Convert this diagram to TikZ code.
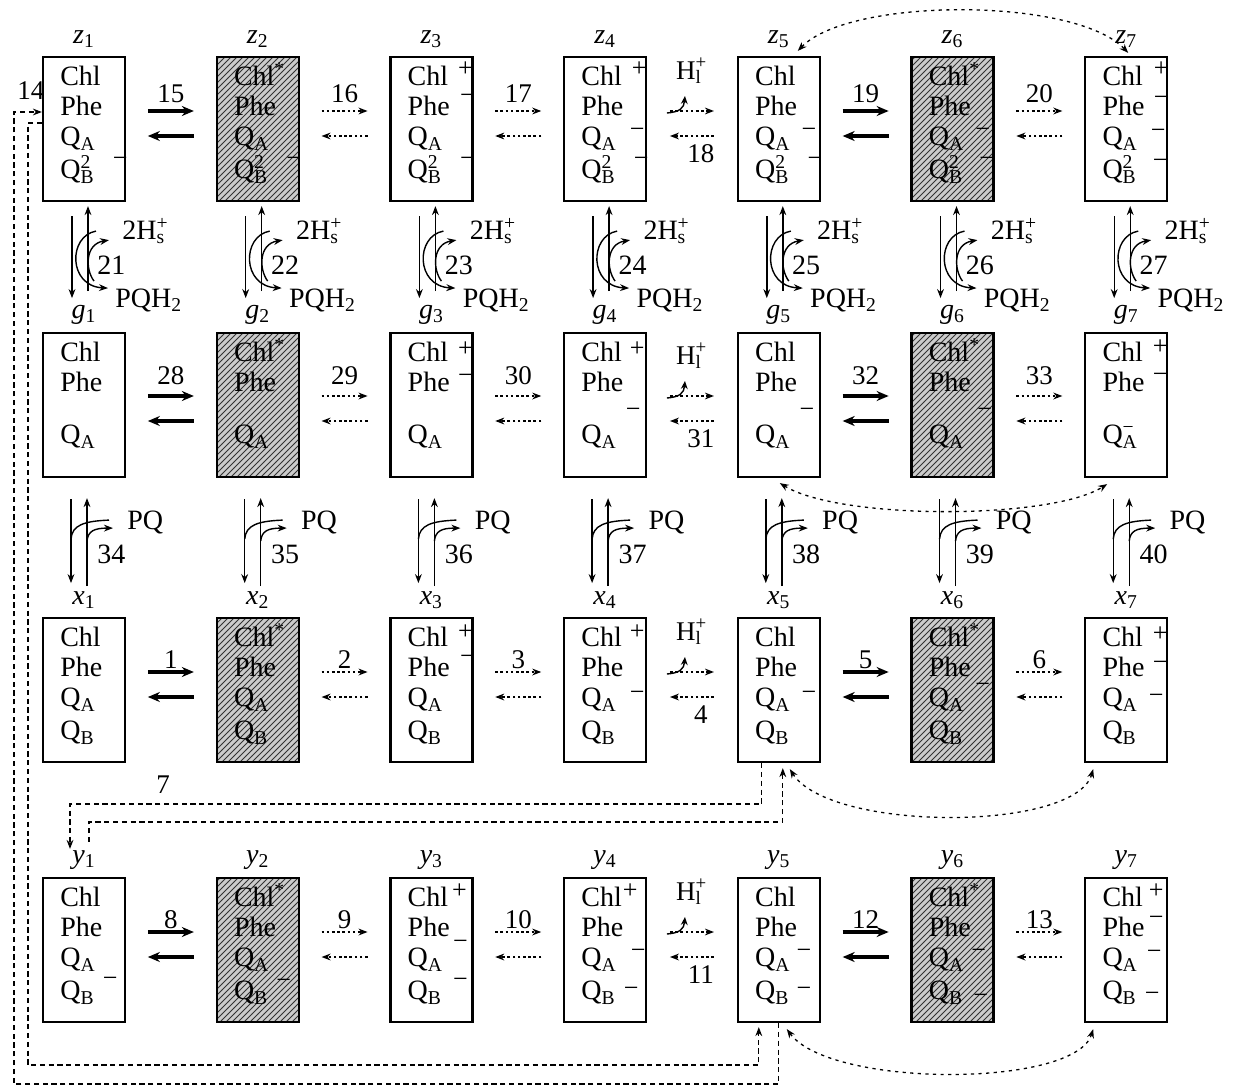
\documentclass[tikz,border=0pt]{standalone}
\usepackage{fontspec}
\setmainfont{Liberation Serif}
\usetikzlibrary{arrows.meta,patterns,calc}
\newcommand\bfs{\fontsize{14pt}{16pt}\selectfont}
\newcommand\nfs{\fontsize{13.5pt}{15pt}\selectfont}
\newcommand\cfs{\fontsize{13pt}{13pt}\selectfont}
\newcommand\QA{Q\textsubscript{A}}
\newcommand\QB{Q\textsubscript{B}}
\newcommand\QBtwo{Q\rlap{\textsuperscript{2}}\textsubscript{B}}
\newcommand\QAm{Q\rlap{\textsuperscript{−}}\textsubscript{A}}
\newcommand\Hl{H\rlap{\textsuperscript{+}}\textsubscript{l}}
\newcommand\Hs{2H\rlap{\textsuperscript{+}}\textsubscript{s}}
\newcommand\PQH{PQH\textsubscript{2}}
\newcommand\Chls{Chl\textsuperscript{*}}
\newcommand\fourl[5]{%
  \node[tl] (#1-a) at ($(#1.north west)+(18,30)$) {#2};
  \node[tl] (#1-b) at ($(#1.north west)+(18,60)$) {#3};
  \node[tl] (#1-c) at ($(#1.north west)+(18,90)$) {#4};
  \node[tl] (#1-d) at ($(#1.north west)+(18,123)$) {#5};}
\newcommand\threel[4]{%
  \node[tl] (#1-a) at ($(#1.north west)+(18,30)$) {#2};
  \node[tl] (#1-b) at ($(#1.north west)+(18,60)$) {#3};
  \node[tl] (#1-c) at ($(#1.north west)+(18,112)$) {#4};}
\newcommand\chg[5]{\node[chg] (#1-q#2) at ($(#1.north east)+(#4,#3)$) {#5};}
% from, to, style, number, dy, number offset
\newcommand\harrN[6]{%
  \coordinate (#1#2m) at ($(#1.east)!0.5!(#2.west)$);
  \draw[#3] ($(#1#2m)+(-23,#5)$) -- ($(#1#2m)+(23,#5)$);
  \draw[#3] ($(#1#2m)+(23,#5+25)$) -- ($(#1#2m)+(-23,#5+25)$);
  \node[num] (#1#2n) at ($(#1#2m)+(0,#5+#6)$) {#4};}
% from, to, number, dy
\newcommand\harrH[4]{%
  \coordinate (#1#2m) at ($(#1.east)!0.5!(#2.west)$);
  \draw[dotar] ($(#1#2m)+(-22,#4)$) -- ($(#1#2m)+(22,#4)$);
  \draw[dotar] ($(#1#2m)+(22,#4+25)$) -- ($(#1#2m)+(-22,#4+25)$);
  \draw[vl,-hookt] ($(#1#2m)+(-25,#4+2)$) .. controls ($(#1#2m)+(-12,#4+1)$) and ($(#1#2m)+(-8,#4-3)$) .. ($(#1#2m)+(-7,#4-15)$);
  \node[num] (#1#2n) at ($(#1#2m)+(9,#4+43)$) {#3};
  \node[num] (#1#2h) at ($(#1#2m)+(-3,#4-40)$) {\Hl};}
\begin{document}
\begin{tikzpicture}[x=0.5pt,y=-0.5pt,
  smallt/.tip={Stealth[length=4.5pt,width=3.4pt]},
  hookt/.tip={Stealth[length=4pt,width=3.4pt]},
  bigt/.tip={Stealth[length=6pt,width=5pt]},
  box/.style={draw,line width=1.1pt,minimum width=41pt,minimum height=72pt,inner sep=0pt},
  sbox/.style={box,preaction={fill=black!20},pattern=north east lines,pattern color=black!80},
  tl/.style={anchor=base west,inner sep=0pt,font=\bfs},
  chg/.style={inner sep=0pt,font=\cfs},
  num/.style={inner sep=0pt,font=\nfs},
  lab/.style={inner sep=0pt,font=\bfs},
  spc/.style={anchor=west,inner sep=0pt,font=\bfs},
  vl/.style={line width=0.7pt},
  dotar/.style={line width=0.75pt,dash pattern=on 1.3pt off 1.3pt,-smallt},
  thk/.style={line width=1.8pt,-bigt},
  ldash/.style={line width=0.65pt,dash pattern=on 2.6pt off 1.8pt},
  adash/.style={line width=0.65pt,dash pattern=on 1.6pt off 2.2pt,smallt-smallt}]
\useasboundingbox (0,0) rectangle (1242,1086);

% boxes
\foreach \rw/\t in {z/57,g/333,x/618,y/878}{
  \foreach \i/\c in {1/84,3/431.4,4/605.1,5/778.8,7/1126.2}{
    \node[box] (\rw\i) at (\c,\t+72) {};
    \node[lab] (\rw\i-lab) at (\c,\t-18) {\textit{\rw}\textsubscript{\i}};
  }
  \foreach \i/\c in {2/257.7,6/952.5}{
    \node[sbox] (\rw\i) at (\c,\t+72) {};
    \node[lab] (\rw\i-lab) at (\c,\t-18) {\textit{\rw}\textsubscript{\i}};
  }
}

% box texts
\foreach \i/\ch in {1/Chl,2/\Chls,3/Chl,4/Chl,5/Chl,6/\Chls,7/Chl}{
  \fourl{z\i}{\ch}{Phe}{\QA}{\QBtwo}
  \threel{g\i}{\ch}{Phe}{\ifnum\i=7 \QAm\else\QA\fi}
  \fourl{x\i}{\ch}{Phe}{\QA}{\QB}
  \fourl{y\i}{\ch}{Phe}{\QA}{\QB}
}

% charges
\chg{z1}{d}{106}{-6}{−}
\chg{z2}{d}{106}{-6}{−}
\chg{z3}{a}{13}{-8}{+}\chg{z3}{b}{43}{-6}{−}\chg{z3}{d}{106}{-6}{−}
\chg{z4}{a}{13}{-8}{+}\chg{z4}{c}{77}{-10}{−}\chg{z4}{d}{106}{-6}{−}
\chg{z5}{c}{77}{-12}{−}\chg{z5}{d}{106}{-6}{−}
\chg{z6}{c}{77}{-12}{−}\chg{z6}{d}{106}{-8}{−}
\chg{z7}{a}{13}{-7}{+}\chg{z7}{b}{45}{-7}{−}\chg{z7}{c}{78}{-10}{−}\chg{z7}{d}{108}{-8}{−}
\chg{g3}{a}{17}{-8}{+}\chg{g3}{b}{47}{-8}{−}
\chg{g4}{a}{17}{-10}{+}\chg{g4}{c}{81}{-14}{−}
\chg{g5}{c}{81}{-14}{−}
\chg{g6}{c}{81}{-10}{−}
\chg{g7}{a}{15}{-8}{+}\chg{g7}{b}{46}{-8}{−}
\chg{x3}{a}{15}{-8}{+}\chg{x3}{b}{43}{-6}{−}
\chg{x4}{a}{15}{-10}{+}\chg{x4}{c}{79}{-10}{−}
\chg{x5}{c}{79}{-12}{−}
\chg{x6}{c}{71}{-12}{−}
\chg{x7}{a}{17}{-8}{+}\chg{x7}{b}{49}{-8}{−}\chg{x7}{c}{82}{-12}{−}
\chg{y1}{d}{105}{-16}{−}
\chg{y2}{d}{107}{-16}{−}
\chg{y3}{a}{14}{-14}{+}\chg{y3}{b}{68}{-13}{−}\chg{y3}{d}{106}{-13}{−}
\chg{y4}{a}{14}{-17}{+}\chg{y4}{c}{77}{-9}{−}\chg{y4}{d}{115}{-16}{−}
\chg{y5}{c}{77}{-17}{−}\chg{y5}{d}{115}{-17}{−}
\chg{y6}{c}{77}{-16}{−}\chg{y6}{d}{122}{-14}{−}
\chg{y7}{a}{14}{-12}{+}\chg{y7}{b}{44}{-12}{−}\chg{y7}{c}{78}{-14}{−}\chg{y7}{d}{120}{-16}{−}

% horizontal transitions
\foreach \rw/\dy/\no/\na/\nb/\nc/\nd/\ne/\nf in {z/-18/-17/15/16/17/18/19/20, g/-9/-20/28/29/30/31/32/33, x/-18/-12/1/2/3/4/5/6, y/-18/-12/8/9/10/11/12/13}{
  \harrN{\rw1}{\rw2}{thk}{\na}{\dy}{\no}
  \harrN{\rw2}{\rw3}{dotar}{\nb}{\dy}{\no}
  \harrN{\rw3}{\rw4}{dotar}{\nc}{\dy}{\no}
  \harrH{\rw4}{\rw5}{\nd}{\dy}
  \harrN{\rw5}{\rw6}{thk}{\ne}{\dy}{\no}
  \harrN{\rw6}{\rw7}{dotar}{\nf}{\dy}{\no}
}

% vertical transitions
\foreach \i/\n/\m in {1/21/34,2/22/35,3/23/36,4/24/37,5/25/38,6/26/39,7/27/40}{
  \begin{scope}[shift={(z\i.south)}]
    \draw[vl,-smallt] (-12,14) -- (-12,96);
    \draw[vl,-smallt] (4,89) -- (4,4);
    \draw[vl,-smallt] (12,29) .. controls (-16,34) and (-16,84) .. (24,86);
    \draw[vl,-smallt] (10,79) .. controls (1,67) and (1,42) .. (25,38);
    \node[spc] (zg\i-h) at (38,29) {\Hs};
    \node[spc] (zg\i-p) at (31,98) {\PQH};
    \node[spc] (zg\i-n) at (13,63) {\n};
  \end{scope}
  \begin{scope}[shift={(g\i.south)}]
    \draw[vl,-smallt] (-13,21) -- (-13,105);
    \draw[vl,-smallt] (3,108) -- (3,20);
    \draw[vl] (-13,61) .. controls (-12,47) and (0,43) .. (25,42);
    \draw[vl,-smallt] (3,63) .. controls (4,53) and (10,50) .. (29,50);
    \node[spc] (gx\i-p) at (43,44) {PQ};
    \node[spc] (gx\i-n) at (13,76) {\m};
  \end{scope}
}

% arcs between states 5 and 7
\draw[adash] ($(z5.north)+(19,-5)$) .. controls (850,-3) and (1075,-3) .. ($(z7.north)+(2,-3)$);
\draw[adash] ($(g5.south)+(1,5)$) .. controls (840,520) and (1050,520) .. ($(g7.south)+(-19,6)$);
\draw[adash] ($(x5.south)+(11,6)$) .. controls (830,832) and (1075,832) .. ($(x7.south)+(-33,6)$);
\draw[adash] ($(y5.south)+(8,6)$) .. controls (830,1088) and (1075,1088) .. ($(y7.south)+(-33,6)$);

% long dashed links
\draw[ldash,-smallt] ($(x5.south)+(-17,0)$) -- ++(0,41) -| ($(y1.north)+(-14,-28)$);
\draw[ldash,-smallt] ($(y1.north)+(5,-35)$) -- ++(0,-20) -| ($(x5.south)+(4,5)$);
\draw[ldash,-smallt] ($(z1.west)+(0,-6)$) -- ++(-14,0) -- ++(0,942) -| ($(y5.south)+(-20,4)$);
\draw[ldash,-smallt] (y5.south) -- ++(0,61) -| (14,112) -- ($(z1.west)+(0,-17)$);
\node[num] (lab7) at (163,785) {7};
\node[num] (lab14) at (31,91) {14};
\end{tikzpicture}
\end{document}
